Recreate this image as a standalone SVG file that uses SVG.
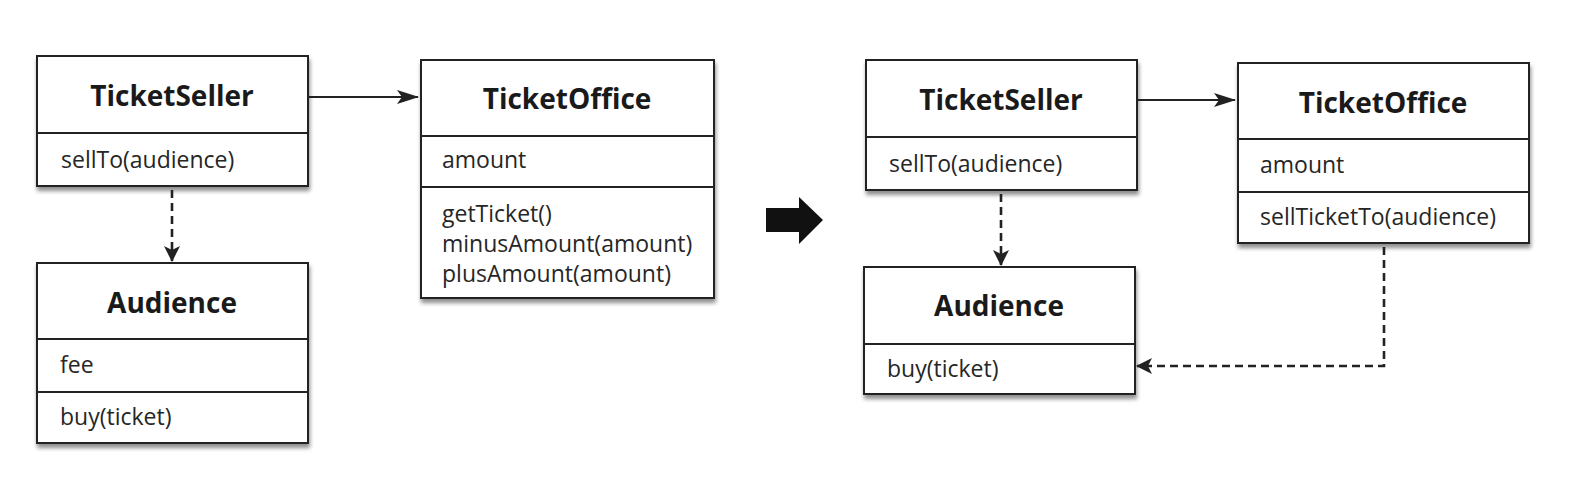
<svg xmlns="http://www.w3.org/2000/svg" width="1574" height="490" viewBox="0 0 1574 490">
<style>
.box{fill:#fff;stroke:#222;stroke-width:2}
.div{stroke:#222;stroke-width:1.8}
.t{font-family:"Open Sans","Noto Sans",sans-serif;font-weight:bold;font-size:28px;fill:#1a1a1a;text-anchor:middle}
.m{font-family:"Open Sans","Noto Sans",sans-serif;font-size:23px;fill:#262626}
.c{stroke:#222;stroke-width:2;fill:none}
.d{stroke-width:2.6;stroke-dasharray:8 5}
</style>
<defs>
<filter id="sh" x="-10%" y="-10%" width="125%" height="130%">
<feGaussianBlur in="SourceAlpha" stdDeviation="2"/>
<feOffset dx="1" dy="4" result="b"/>
<feComponentTransfer><feFuncA type="linear" slope="0.45"/></feComponentTransfer>
<feMerge><feMergeNode/><feMergeNode in="SourceGraphic"/></feMerge>
</filter>
<marker id="ah" markerWidth="22" markerHeight="16" refX="21" refY="8" orient="auto" markerUnits="userSpaceOnUse">
<path d="M0,1 L22,8 L0,15 L5,8 Z" fill="#222"/>
</marker>
<marker id="ad" markerWidth="16" markerHeight="18" refX="15" refY="9" orient="auto" markerUnits="userSpaceOnUse">
<path d="M0,1 L16,9 L0,17 L4,9 Z" fill="#222"/>
</marker>
</defs>
<rect width="1574" height="490" fill="#fff"/>

<g id="ticketseller-left">
<rect class="box" x="37" y="56" width="271" height="130" filter="url(#sh)"/>
<line class="div" x1="37" y1="133" x2="308" y2="133"/>
<text class="t" x="172" y="106">TicketSeller</text>
<text class="m" x="61" y="168">sellTo(audience)</text>
</g>

<g id="audience-left">
<rect class="box" x="37" y="263" width="271" height="180" filter="url(#sh)"/>
<line class="div" x1="37" y1="339" x2="308" y2="339"/>
<line class="div" x1="37" y1="392" x2="308" y2="392"/>
<text class="t" x="172" y="313">Audience</text>
<text class="m" x="60" y="373">fee</text>
<text class="m" x="60" y="425">buy(ticket)</text>
</g>

<g id="ticketoffice-left">
<rect class="box" x="421" y="60" width="293" height="238" filter="url(#sh)"/>
<line class="div" x1="421" y1="136" x2="714" y2="136"/>
<line class="div" x1="421" y1="187" x2="714" y2="187"/>
<text class="t" x="567" y="109">TicketOffice</text>
<text class="m" x="442" y="168">amount</text>
<text class="m" x="442" y="222">getTicket()</text>
<text class="m" x="442" y="252">minusAmount(amount)</text>
<text class="m" x="442" y="282">plusAmount(amount)</text>
</g>

<g id="transform-arrow">
<path d="M766,208 L799,208 L799,197 L823,220 L799,244 L799,232 L766,232 Z" fill="#111"/>
</g>

<g id="ticketseller-right">
<rect class="box" x="866" y="60" width="271" height="130" filter="url(#sh)"/>
<line class="div" x1="866" y1="137" x2="1137" y2="137"/>
<text class="t" x="1001" y="110">TicketSeller</text>
<text class="m" x="889" y="172">sellTo(audience)</text>
</g>

<g id="audience-right">
<rect class="box" x="864" y="267" width="271" height="127" filter="url(#sh)"/>
<line class="div" x1="864" y1="344" x2="1135" y2="344"/>
<text class="t" x="999" y="316">Audience</text>
<text class="m" x="887" y="377">buy(ticket)</text>
</g>

<g id="ticketoffice-right">
<rect class="box" x="1238" y="63" width="291" height="180" filter="url(#sh)"/>
<line class="div" x1="1238" y1="139" x2="1529" y2="139"/>
<line class="div" x1="1238" y1="192" x2="1529" y2="192"/>
<text class="t" x="1383" y="113">TicketOffice</text>
<text class="m" x="1260" y="173">amount</text>
<text class="m" x="1260" y="225">sellTicketTo(audience)</text>
</g>

<g id="connectors">
<line class="c" x1="309" y1="97" x2="418" y2="97" marker-end="url(#ah)"/>
<line class="c d" x1="172" y1="190" x2="172" y2="261" marker-end="url(#ad)"/>
<line class="c" x1="1138" y1="100" x2="1235" y2="100" marker-end="url(#ah)"/>
<line class="c d" x1="1001" y1="194" x2="1001" y2="265" marker-end="url(#ad)"/>
<polyline class="c d" points="1384,247 1384,366 1137,366" marker-end="url(#ad)"/>
</g>
</svg>
